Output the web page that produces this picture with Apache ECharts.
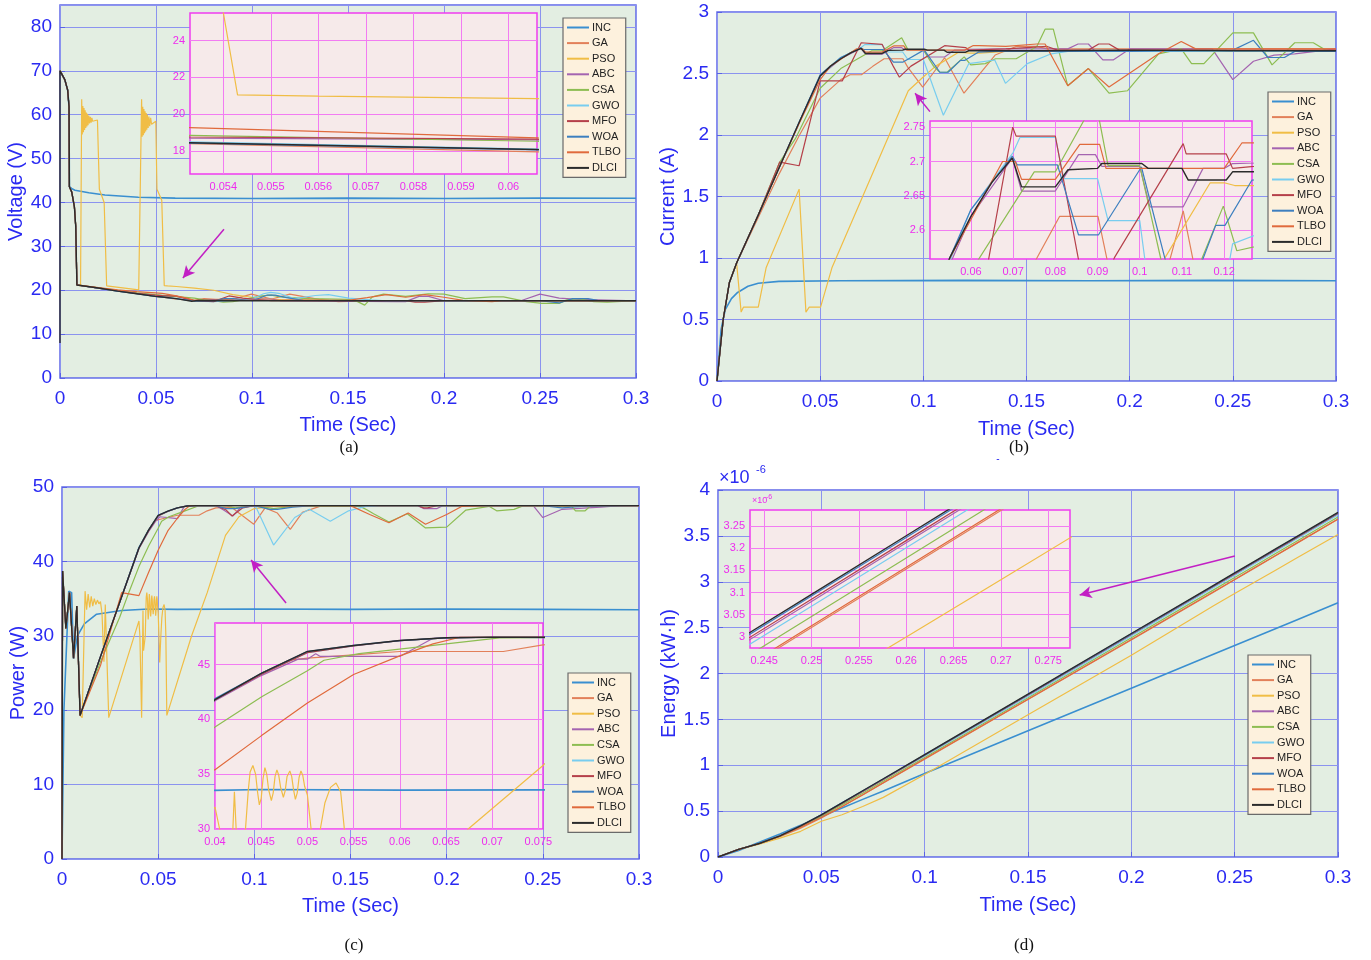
<!DOCTYPE html>
<html><head><meta charset="utf-8">
<script src="https://cdn.jsdelivr.net/npm/echarts@6/dist/echarts.min.js"></script>
<style>html,body{margin:0;padding:0;background:#fff}#c{width:1371px;height:960px}</style>
</head><body><div id="c"></div>
<script>
// ---------- names / colours ----------
const NAMES = ['INC','GA','PSO','ABC','CSA','GWO','MFO','WOA','TLBO','DLCI'];
const COLORS = ['#3a8fd0','#e2805a','#f0bd45','#a464b0','#8dbd52','#78cdef','#b5404a','#3d7fbf','#e06a3c','#2b2b2b'];
const WIDTHS = [1.6,1.2,1.2,1.2,1.2,1.2,1.2,1.2,1.2,1.4];

// ---------- (a) Voltage (V) ----------
const V_START = [[0,70],[0.0025,68],[0.004,65.6],[0.0047,61.8],[0.0049,43.6],[0.0061,42.4],[0.0075,39],[0.0082,34.5],[0.0088,21.2]];
const V_INC = [[0,70],[0.0025,68],[0.004,65.6],[0.0047,61.8],[0.0049,43.6],[0.006,43.2],[0.0078,42.8],[0.015,42.2],[0.0234,41.7],[0.0408,41.2],[0.06,41],[0.1,40.9],[0.15,41],[0.2,40.9],[0.25,41],[0.3,40.95]];
const V_GA = V_START.concat([[0.02,20.5],[0.03,19.8],[0.04,19.2],[0.0495,18.6],[0.0533,18.4],[0.0606,17.95],[0.07,17.7],[0.075,18.1],[0.081,17.9],[0.09,17.9],[0.0997,19.1],[0.1103,18.0],[0.1197,19.1],[0.1348,17.9],[0.145,17.4],[0.155,17.5],[0.16,17.6],[0.3,17.6]]);
const V_PSO = V_START.concat([[0.0107,21],[0.0113,63.5],[0.0116,55.5],[0.0119,62],[0.0122,56],[0.0125,61.5],[0.0128,56.5],[0.0131,61],[0.0134,57],[0.0137,60.5],[0.014,57.3],[0.0143,60.2],[0.0146,57.6],[0.015,59.8],[0.0154,58],[0.0158,59.5],[0.0162,58.2],[0.0166,59.3],[0.017,58.5],[0.0195,58.8],[0.0205,43],[0.023,40],[0.0243,21],[0.041,20.1],[0.0418,20.3],[0.0425,63.5],[0.0428,55],[0.0431,61.8],[0.0434,55.3],[0.0437,61.3],[0.044,55.8],[0.0443,60.8],[0.0446,56.2],[0.0449,60.4],[0.0452,56.6],[0.0455,60],[0.0459,57],[0.0463,59.6],[0.0467,57.4],[0.0472,59.3],[0.0477,57.8],[0.0499,58.5],[0.0505,43],[0.053,40.5],[0.0543,21.05],[0.056,20.98],[0.0606,20.85],[0.07,20.5],[0.08,20],[0.09,19.0],[0.1,18.4],[0.106,18.1],[0.1167,17.8],[0.127,17.8],[0.14,17.7],[0.3,17.6]]);
const V_ABC = V_START.concat([[0.02,20.5],[0.03,19.85],[0.04,19.25],[0.0495,18.8],[0.0533,18.7],[0.0606,18.6],[0.07,17.6],[0.08,17.8],[0.086,17.5],[0.1024,18.0],[0.11,18.0],[0.115,17.6],[0.175,17.4],[0.18,17.4],[0.187,18.6],[0.192,18.6],[0.2,17.6],[0.24,17.6],[0.25,19.1],[0.26,18.2],[0.27,17.9],[0.3,17.6]]);
const V_CSA = V_START.concat([[0.02,20.55],[0.03,20.0],[0.04,19.4],[0.0495,19.0],[0.0533,18.85],[0.0606,18.53],[0.07,18.2],[0.075,17.8],[0.08,17.6],[0.085,17.3],[0.09,17.4],[0.095,17.8],[0.1023,18.5],[0.105,18.7],[0.11,18.9],[0.115,18.5],[0.12,18.3],[0.13,18.1],[0.15,17.9],[0.155,17.4],[0.1587,16.6],[0.1627,18.5],[0.1685,19.1],[0.18,18.6],[0.1918,19.2],[0.2,19.1],[0.211,18.1],[0.225,18.5],[0.231,18.5],[0.243,17.4],[0.251,17.0],[0.26,17.0],[0.264,17.8],[0.27,18.1],[0.278,17.4],[0.285,17.3],[0.29,17.4],[0.3,17.6]]);
const V_GWO = V_START.concat([[0.02,20.5],[0.03,19.8],[0.04,19.2],[0.0495,18.65],[0.0533,18.5],[0.0606,18.1],[0.07,17.5],[0.08,17.4],[0.09,17.7],[0.1,18.0],[0.106,19.2],[0.1097,19.5],[0.114,19.3],[0.122,18.1],[0.133,18.8],[0.1398,19.0],[0.1504,18.2],[0.162,17.8],[0.17,17.6],[0.3,17.6]]);
const V_MFO = V_START.concat([[0.02,20.5],[0.03,19.9],[0.04,19.3],[0.0495,18.9],[0.0533,18.76],[0.0606,18.64],[0.07,17.6],[0.08,17.4],[0.088,18.7],[0.095,18.2],[0.11,17.6],[0.12,17.7],[0.18,17.6],[0.185,17.3],[0.19,17.3],[0.2,17.6],[0.3,17.6]]);
const V_WOA = V_START.concat([[0.02,20.5],[0.03,19.8],[0.04,19.2],[0.0495,18.6],[0.0533,18.43],[0.0606,18.06],[0.07,17.55],[0.08,17.55],[0.0855,18.1],[0.0902,18.1],[0.1004,17.6],[0.108,18.9],[0.112,18.9],[0.118,18.3],[0.1266,17.7],[0.2,17.6],[0.25,17.6],[0.26,17.1],[0.267,18.1],[0.275,18.1],[0.28,17.7],[0.3,17.6]]);
const V_TLBO = V_START.concat([[0.02,20.6],[0.03,20.1],[0.04,19.7],[0.0495,19.4],[0.0533,19.27],[0.0606,18.71],[0.066,18.2],[0.07,17.7],[0.15,17.7],[0.16,18.3],[0.17,19.0],[0.18,18.4],[0.19,19.0],[0.2,18.4],[0.21,17.7],[0.225,17.4],[0.23,17.6],[0.3,17.6]]);
const V_DLCI = [[0,8]].concat(V_START, [[0.02,20.5],[0.03,19.8],[0.04,19.2],[0.0495,18.6],[0.0533,18.45],[0.0606,18.08],[0.0686,17.5],[0.072,17.65],[0.1,17.6],[0.15,17.62],[0.2,17.6],[0.25,17.62],[0.3,17.6]]);

// ---------- (b) Current (A) ----------
const I_START = [[0,0],[0.003,0.5],[0.006,0.8],[0.0095,0.96]];
const I_INC = [[0,0],[0.002,0.42],[0.004,0.58],[0.007,0.67],[0.01,0.72],[0.015,0.77],[0.02,0.795],[0.03,0.81],[0.06,0.815],[0.12,0.818],[0.18,0.815],[0.24,0.818],[0.3,0.815]];
const I_GA = I_START.concat([[0.02,1.33],[0.03,1.68],[0.04,2.0],[0.05,2.3],[0.06,2.45],[0.0645,2.49],[0.07,2.49],[0.0755,2.558],[0.081,2.62],[0.0901,2.62],[0.0925,2.55],[0.0997,2.39],[0.1103,2.628],[0.1197,2.34],[0.1348,2.65],[0.145,2.72],[0.155,2.72],[0.16,2.7],[0.3,2.7]]);
const I_PSO = I_START.concat([[0.0117,0.56],[0.0128,0.6],[0.02,0.6],[0.0238,0.92],[0.0398,1.56],[0.0431,0.56],[0.0447,0.6],[0.0502,0.6],[0.0557,0.92],[0.0927,2.36],[0.0998,2.47],[0.106,2.56],[0.1167,2.669],[0.12,2.669],[0.1225,2.665],[0.127,2.665],[0.14,2.68],[0.3,2.68]]);
const I_ABC = I_START.concat([[0.02,1.35],[0.03,1.73],[0.04,2.11],[0.05,2.48],[0.06,2.62],[0.0698,2.705],[0.072,2.657],[0.08,2.657],[0.0855,2.71],[0.0895,2.71],[0.091,2.693],[0.1,2.693],[0.1024,2.634],[0.1103,2.634],[0.115,2.69],[0.12,2.69],[0.122,2.697],[0.14,2.7],[0.17,2.7],[0.175,2.74],[0.18,2.74],[0.187,2.61],[0.192,2.61],[0.2,2.7],[0.24,2.7],[0.25,2.45],[0.26,2.6],[0.27,2.65],[0.28,2.66],[0.3,2.7]]);
const I_CSA = I_START.concat([[0.02,1.35],[0.0304,1.78],[0.038,1.97],[0.05,2.38],[0.06,2.54],[0.075,2.685],[0.08,2.685],[0.0895,2.79],[0.0925,2.694],[0.1,2.694],[0.105,2.558],[0.108,2.51],[0.1115,2.51],[0.1198,2.635],[0.123,2.57],[0.13,2.58],[0.135,2.62],[0.145,2.62],[0.155,2.72],[0.159,2.86],[0.163,2.86],[0.17,2.4],[0.18,2.54],[0.19,2.34],[0.199,2.36],[0.214,2.66],[0.225,2.7],[0.23,2.58],[0.236,2.58],[0.25,2.83],[0.26,2.83],[0.269,2.57],[0.28,2.75],[0.289,2.75],[0.296,2.68],[0.3,2.68]]);
const I_GWO = I_START.concat([[0.02,1.35],[0.03,1.73],[0.04,2.11],[0.05,2.48],[0.06,2.63],[0.07,2.713],[0.0716,2.735],[0.08,2.735],[0.082,2.675],[0.09,2.675],[0.0925,2.614],[0.1,2.614],[0.1097,2.16],[0.122,2.58],[0.1346,2.61],[0.1398,2.42],[0.1504,2.58],[0.162,2.66],[0.17,2.68],[0.3,2.68]]);
const I_MFO = I_START.concat([[0.02,1.35],[0.0304,1.78],[0.0398,1.75],[0.05,2.44],[0.0607,2.44],[0.0699,2.75],[0.0707,2.737],[0.08,2.737],[0.0854,2.56],[0.0884,2.47],[0.094,2.56],[0.1103,2.726],[0.111,2.711],[0.1205,2.711],[0.122,2.69],[0.14,2.7],[0.16,2.72],[0.165,2.69],[0.18,2.69],[0.185,2.74],[0.19,2.74],[0.195,2.69],[0.3,2.69]]);
const I_WOA = I_START.concat([[0.02,1.35],[0.03,1.73],[0.04,2.11],[0.05,2.49],[0.06,2.63],[0.0698,2.708],[0.071,2.695],[0.0805,2.695],[0.0855,2.593],[0.0902,2.593],[0.1004,2.692],[0.108,2.51],[0.112,2.51],[0.118,2.607],[0.1202,2.607],[0.1266,2.673],[0.135,2.68],[0.2,2.68],[0.25,2.69],[0.26,2.77],[0.267,2.63],[0.275,2.63],[0.28,2.68],[0.3,2.68]]);
const I_TLBO = I_START.concat([[0.02,1.35],[0.03,1.73],[0.04,2.1],[0.05,2.45],[0.0549,2.558],[0.0675,2.7],[0.0705,2.7],[0.072,2.674],[0.08,2.674],[0.0858,2.725],[0.0905,2.725],[0.092,2.69],[0.12,2.69],[0.1242,2.727],[0.127,2.727],[0.14,2.72],[0.155,2.74],[0.159,2.74],[0.17,2.4],[0.18,2.54],[0.19,2.39],[0.214,2.66],[0.225,2.76],[0.232,2.7],[0.3,2.7]]);
const I_DLCI = I_START.concat([[0.02,1.35],[0.03,1.73],[0.04,2.11],[0.05,2.48],[0.055,2.56],[0.06,2.62],[0.065,2.67],[0.0698,2.705],[0.072,2.663],[0.08,2.663],[0.083,2.688],[0.09,2.69],[0.091,2.697],[0.1005,2.697],[0.102,2.69],[0.11,2.69],[0.1115,2.673],[0.1205,2.673],[0.122,2.685],[0.16,2.685],[0.2,2.69],[0.25,2.685],[0.3,2.685]]);

// ---------- (c) Power (W) ----------
const P_START = [[0,0],[0.0003,38.7],[0.002,31],[0.0039,35.8],[0.006,27],[0.0077,34],[0.0094,19.3]];
const P_INC = [[0,0],[0.001,20],[0.0035,36],[0.005,35.8],[0.006,26.9],[0.008,30],[0.0116,31.6],[0.018,32.9],[0.031,33.4],[0.045,33.6],[0.06,33.55],[0.1,33.6],[0.15,33.55],[0.2,33.6],[0.25,33.55],[0.3,33.5]];
const P_GA = P_START.concat([[0.02,27.2],[0.03,34.5],[0.04,41.8],[0.045,44.2],[0.048,45.4],[0.05,45.6],[0.055,45.9],[0.06,46.2],[0.0712,46.2],[0.0755,46.8],[0.08,47.2],[0.088,47.3],[0.092,46.5],[0.0997,45],[0.1056,47.2],[0.112,46.5],[0.1187,44.3],[0.125,46.6],[0.134,47.4],[0.14,47.5],[0.3,47.5]]);
const P_PSO = P_START.concat([[0.0105,19],[0.012,36],[0.0128,33.5],[0.0136,35.6],[0.0144,33.8],[0.0152,35.3],[0.016,34],[0.0168,35],[0.0176,34.2],[0.0184,34.8],[0.0192,34.3],[0.02,34.6],[0.0208,33],[0.0218,26.5],[0.0225,34.2],[0.0243,19],[0.04,32],[0.0405,30],[0.0414,19],[0.0421,33.4],[0.0424,28],[0.0433,30],[0.0436,33.5],[0.0438,35.2],[0.0441,35.8],[0.0444,35.0],[0.0446,33.4],[0.0448,32.2],[0.045,32.8],[0.0452,34.6],[0.0454,35.6],[0.0456,35.0],[0.0458,33.6],[0.0461,32.6],[0.0463,33.3],[0.0465,34.8],[0.0467,35.4],[0.0469,34.9],[0.0471,33.8],[0.0474,32.9],[0.0476,33.5],[0.0478,34.8],[0.0481,35.3],[0.0483,34.8],[0.0485,33.6],[0.0487,32.7],[0.0489,33.3],[0.0491,34.7],[0.0493,35.3],[0.0495,34.9],[0.0497,33.9],[0.05,33.1],[0.0504,30],[0.0508,26.4],[0.0514,30],[0.0519,32.4],[0.0525,33.8],[0.0531,34.2],[0.0536,33.4],[0.054,30],[0.0545,19.3],[0.0674,30],[0.0755,35.8],[0.085,43.5],[0.092,46],[0.1,47.1],[0.11,47.4],[0.3,47.5]]);
const P_ABC = P_START.concat([[0.02,27.2],[0.03,34.5],[0.04,41.7],[0.045,44.0],[0.049,45.5],[0.05,45.5],[0.0509,46],[0.0514,45.75],[0.06,45.75],[0.0636,47.4],[0.0658,47.5],[0.08,47.5],[0.084,46.9],[0.0888,46.1],[0.093,47.3],[0.1,47.5],[0.185,47.5],[0.188,47.1],[0.195,47.1],[0.198,47.5],[0.245,47.5],[0.25,45.9],[0.26,47.0],[0.28,47.3],[0.29,47.5],[0.3,47.5]]);
const P_CSA = P_START.concat([[0.02,26.5],[0.03,32.5],[0.035,36],[0.04,39.3],[0.0451,42.1],[0.05,44.45],[0.0518,45.4],[0.0556,46],[0.0636,46.75],[0.0708,47.45],[0.085,47.5],[0.09,47.2],[0.1,47.5],[0.105,47.3],[0.11,47.1],[0.12,47.4],[0.155,47.4],[0.1587,46.9],[0.162,46.4],[0.17,45.3],[0.1795,46.4],[0.189,44.5],[0.2,44.6],[0.21,46.9],[0.222,47.4],[0.226,46.8],[0.235,47],[0.24,47.5],[0.265,47.4],[0.267,46.8],[0.272,46.8],[0.275,47.5],[0.3,47.5]]);
const P_GWO = P_START.concat([[0.02,27.2],[0.03,34.5],[0.04,41.8],[0.045,44.2],[0.05,46.1],[0.055,46.7],[0.06,47.2],[0.065,47.45],[0.07,47.5],[0.1,47.5],[0.101,47.2],[0.11,42.2],[0.121,45.9],[0.1286,47],[0.1395,45.4],[0.149,46.8],[0.158,47.4],[0.165,47.5],[0.3,47.5]]);
const P_MFO = P_START.concat([[0.02,27.2],[0.03,34.5],[0.04,41.8],[0.045,44.1],[0.05,46.1],[0.055,46.7],[0.06,47.2],[0.065,47.45],[0.07,47.5],[0.08,47.5],[0.0854,46.9],[0.0884,46.1],[0.094,47.2],[0.1,47.5],[0.185,47.5],[0.188,47.2],[0.19,47.2],[0.195,47.5],[0.3,47.5]]);
const P_WOA = P_START.concat([[0.02,27.2],[0.03,34.5],[0.04,41.9],[0.045,44.2],[0.05,46.2],[0.055,46.75],[0.06,47.2],[0.065,47.45],[0.07,47.5],[0.08,47.45],[0.0855,47.1],[0.09,47.1],[0.1,47.5],[0.108,47.0],[0.112,47.0],[0.12,47.3],[0.13,47.5],[0.25,47.5],[0.26,47.2],[0.27,47.4],[0.3,47.5]]);
const P_TLBO = P_START.concat([[0.02,26],[0.031,35.8],[0.04,35.4],[0.045,38.5],[0.05,41.5],[0.055,44.1],[0.06,45.8],[0.0636,46.9],[0.0665,47.5],[0.15,47.5],[0.16,46.3],[0.17,45.2],[0.18,46.5],[0.189,45],[0.2,46.3],[0.208,47.4],[0.22,47.5],[0.3,47.5]]);
const P_DLCI = P_START.concat([[0.02,27.2],[0.03,34.5],[0.04,41.8],[0.045,44.2],[0.05,46.2],[0.055,46.75],[0.06,47.2],[0.065,47.45],[0.07,47.5],[0.15,47.5],[0.3,47.5]]);

// ---------- (d) Energy (x1e-6 kW·h) ----------
const E_T = [0,0.01,0.02,0.03,0.04,0.05,0.06,0.07,0.08,0.1,0.15,0.2,0.24,0.25,0.26,0.27,0.28,0.3];
const E_INC  = [0,0.07,0.16,0.25,0.345,0.44,0.535,0.628,0.72,0.91,1.375,1.84,2.212,2.305,2.398,2.491,2.584,2.77];
const E_GA   = [0,0.083,0.145,0.222,0.315,0.425,0.548,0.676,0.808,1.066,1.716,2.366,2.889,3.021,3.153,3.285,3.417,3.681];
const E_PSO  = [0,0.083,0.14,0.205,0.28,0.39,0.46,0.55,0.65,0.9,1.55,2.2,2.742,2.871,3.0,3.129,3.258,3.516];
const E_ABC  = [0,0.083,0.147,0.23,0.34,0.458,0.585,0.714,0.844,1.105,1.762,2.421,2.948,3.08,3.212,3.344,3.476,3.74];
const E_CSA  = [0,0.083,0.147,0.228,0.33,0.445,0.568,0.695,0.825,1.085,1.735,2.39,2.914,3.046,3.178,3.31,3.442,3.706];
const E_GWO  = [0,0.083,0.147,0.23,0.34,0.46,0.59,0.72,0.851,1.1,1.75,2.41,2.938,3.069,3.201,3.333,3.465,3.729];
const E_MFO  = [0,0.083,0.147,0.229,0.337,0.455,0.583,0.714,0.845,1.108,1.767,2.426,2.953,3.085,3.217,3.349,3.481,3.745];
const E_WOA  = [0,0.083,0.147,0.23,0.34,0.46,0.59,0.72,0.851,1.113,1.772,2.432,2.96,3.092,3.224,3.356,3.488,3.752];
const E_TLBO = [0,0.083,0.147,0.228,0.325,0.43,0.55,0.678,0.81,1.07,1.72,2.37,2.893,3.025,3.157,3.289,3.421,3.685];
const E_DLCI = [0,0.083,0.147,0.23,0.34,0.46,0.59,0.722,0.853,1.116,1.776,2.436,2.964,3.096,3.228,3.36,3.492,3.756];

// ---------- ticks / annotations ----------
const INSET_A_X = [0.054,0.055,0.056,0.057,0.058,0.059,0.06];
const INSET_A_Y = [18,20,22,24];
const INSET_B_X = [0.06,0.07,0.08,0.09,0.1,0.11,0.12];
const INSET_B_Y = [2.6,2.65,2.7,2.75];
const INSET_C_X = [0.04,0.045,0.05,0.055,0.06,0.065,0.07,0.075];
const INSET_C_Y = [30,35,40,45];
const INSET_D_X = [0.245,0.25,0.255,0.26,0.265,0.27,0.275];
const INSET_D_Y = [3,3.05,3.1,3.15,3.2,3.25];
const ARROW_A = [[0.0854,33.9],[0.064,22.8]];
const ARROW_B = [[0.1032,2.19],[0.096,2.34]];
const ARROW_C = [[0.1165,34.4],[0.0983,40.2]];
const ARROW_D = [[0.2501,3.28],[0.175,2.855]];

const toPairs = (t, v) => t.map((x, i) => [x, v[i]]);
const PANELS = [
  [V_INC,V_GA,V_PSO,V_ABC,V_CSA,V_GWO,V_MFO,V_WOA,V_TLBO,V_DLCI],
  [I_INC,I_GA,I_PSO,I_ABC,I_CSA,I_GWO,I_MFO,I_WOA,I_TLBO,I_DLCI],
  [P_INC,P_GA,P_PSO,P_ABC,P_CSA,P_GWO,P_MFO,P_WOA,P_TLBO,P_DLCI],
  [E_INC,E_GA,E_PSO,E_ABC,E_CSA,E_GWO,E_MFO,E_WOA,E_TLBO,E_DLCI].map(v => toPairs(E_T, v))
];
const ARROWS = [ARROW_A, ARROW_B, ARROW_C, ARROW_D];

// ---------- styling ----------
const FONT = 'Liberation Sans, Arial, sans-serif';
const BLUE = '#2a2af2';
const MAG = '#ee2cee';
const MAIN_GRIDS = [
  {left:60, top:5, width:576, height:373},
  {left:717, top:12, width:619, height:369},
  {left:62, top:487, width:577, height:372},
  {left:718, top:490, width:620, height:367}
];
const INSET_GRIDS = [
  {left:190, top:13, width:347, height:161},
  {left:930, top:121, width:322, height:138},
  {left:215, top:623, width:328, height:206},
  {left:750, top:510, width:320, height:138}
];
const MAIN_Y = [
  {min:0,max:85,interval:10,name:'Voltage (V)',gap:33},
  {min:0,max:3,interval:0.5,name:'Current (A)',gap:38},
  {min:0,max:50,interval:10,name:'Power (W)',gap:34},
  {min:0,max:4,interval:0.5,name:'Energy (kW·h)',gap:38}
];
const X_NAME_GAP = [37,38,37,38];
const INSET_AX = [
  {xmin:0.0533,xmax:0.0606,ymin:16.75,ymax:25.5,xt:INSET_A_X,yt:INSET_A_Y},
  {xmin:0.0503,xmax:0.1266,ymin:2.558,ymax:2.759,xt:INSET_B_X,yt:INSET_B_Y},
  {xmin:0.04,xmax:0.0755,ymin:30,ymax:48.8,xt:INSET_C_X,yt:INSET_C_Y},
  {xmin:0.2435,xmax:0.2773,ymin:2.975,ymax:3.286,xt:INSET_D_X,yt:INSET_D_Y}
];
const LEGEND_POS = [[563,18],[1268,92],[568,673],[1248,655]];

const fmt = v => String(+(+v).toFixed(4));
const grid = [], xAxis = [], yAxis = [], series = [], legend = [];

MAIN_GRIDS.forEach((g, k) => {
  grid.push(Object.assign({show:true, backgroundColor:'#e3eee2', borderColor:'#6068e8', borderWidth:1.5, z:0}, g));
  xAxis.push({type:'value', gridIndex:k, min:0, max:0.3, interval:0.05, z:0,
    axisLine:{show:false}, axisTick:{show:true, inside:true, length:5, lineStyle:{color:'#5a62e6'}},
    splitLine:{show:true, lineStyle:{color:'#8b93ef', width:1}},
    axisLabel:{color:BLUE, fontSize:19, fontFamily:FONT, margin:11, formatter:fmt},
    name:'Time (Sec)', nameLocation:'middle', nameGap:X_NAME_GAP[k],
    nameTextStyle:{color:BLUE, fontSize:20, fontFamily:FONT}});
  const y = MAIN_Y[k];
  yAxis.push({type:'value', gridIndex:k, min:y.min, max:y.max, interval:y.interval, z:0,
    axisLine:{show:false}, axisTick:{show:true, inside:true, length:5, lineStyle:{color:'#5a62e6'}},
    splitLine:{show:true, lineStyle:{color:'#8b93ef', width:1}},
    axisLabel:{color:BLUE, fontSize:19, fontFamily:FONT, margin:8, showMaxLabel: k!==0, formatter:fmt},
    name:y.name, nameLocation:'middle', nameGap:y.gap,
    nameTextStyle:{color:BLUE, fontSize:20, fontFamily:FONT}});
});
INSET_GRIDS.forEach((g, k) => {
  const a = INSET_AX[k];
  grid.push(Object.assign({show:true, backgroundColor:'#f6eaea', borderColor:'#f03cf0', borderWidth:1.5, z:5}, g));
  xAxis.push({type:'value', gridIndex:4+k, min:a.xmin, max:a.xmax, z:6,
    axisLine:{show:false}, axisTick:{show:false, customValues:a.xt},
    splitLine:{show:true, lineStyle:{color:'#f27cf2', width:1}},
    axisLabel:{color:MAG, fontSize:11, fontFamily:FONT, margin:7, customValues:a.xt, formatter:fmt}});
  yAxis.push({type:'value', gridIndex:4+k, min:a.ymin, max:a.ymax, z:6,
    axisLine:{show:false}, axisTick:{show:false, customValues:a.yt},
    splitLine:{show:true, lineStyle:{color:'#f27cf2', width:1}},
    axisLabel:{color:MAG, fontSize:11, fontFamily:FONT, margin:5, customValues:a.yt, formatter:fmt}});
});

PANELS.forEach((data, k) => {
  data.forEach((d, i) => {
    const s = {type:'line', name:NAMES[i], xAxisIndex:k, yAxisIndex:k, data:d, symbol:'none',
      showSymbol:false, clip:true, z:2, lineStyle:{color:COLORS[i], width:WIDTHS[i]}, itemStyle:{color:COLORS[i]}};
    if (i === 9) {
      s.markLine = {silent:true, symbol:['none','arrow'], symbolSize:[9,12], animation:false,
        lineStyle:{color:'#c21fc4', width:1.5, type:'solid'}, label:{show:false},
        data:[[{coord:ARROWS[k][0]},{coord:ARROWS[k][1]}]]};
    }
    series.push(s);
    series.push({type:'line', name:NAMES[i], xAxisIndex:4+k, yAxisIndex:4+k, data:d, symbol:'none',
      showSymbol:false, clip:true, z:7, lineStyle:{color:COLORS[i], width:WIDTHS[i]}, itemStyle:{color:COLORS[i]}});
  });
  legend.push({data:NAMES, orient:'vertical', left:LEGEND_POS[k][0], top:LEGEND_POS[k][1], z:20,
    selectedMode:false, icon:'rect', itemWidth:22, itemHeight:2, itemGap:2.6,
    backgroundColor:'#fdf1dd', borderColor:'#6a6a6a', borderWidth:1.2, padding:[3,5,3,4],
    textStyle:{fontSize:11, color:'#222', fontFamily:FONT, lineHeight:13, padding:[0,0,0,-2]}});
});

const txt = (x, y, s, size, color, fam, align) => ({type:'text', x, y, z:30,
  style:{text:s, fontSize:size, fill:color, fontFamily:fam||FONT, align:align||'left', verticalAlign:'middle'}});
const SERIF = 'Liberation Serif, Times New Roman, serif';
const graphic = [
  txt(349,448,'(a)',17,'#111',SERIF,'center'),
  txt(1019,448,'(b)',17,'#111',SERIF,'center'),
  txt(354,946,'(c)',17,'#111',SERIF,'center'),
  txt(1024,946,'(d)',17,'#111',SERIF,'center'),
  txt(998,459,'-',10,BLUE,FONT,'center'),
  txt(719,478,'×10',18,BLUE),
  txt(756,470,'-6',11,BLUE),
  txt(752,501,'×10',9,MAG),
  txt(766,497,'-6',7,MAG)
];

const chart = echarts.init(document.getElementById('c'), null, {renderer:'canvas'});
chart.setOption({animation:false, backgroundColor:'#ffffff', grid, xAxis, yAxis, series, legend, graphic});
</script></body></html>
